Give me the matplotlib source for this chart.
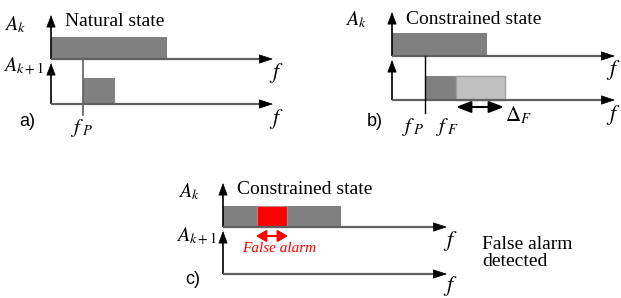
import matplotlib.pyplot as plt
from matplotlib.patches import Rectangle

plt.rcParams['mathtext.fontset'] = 'stix'
plt.rcParams['font.family'] = 'Liberation Serif'

# panel origins (axis corner) and bar extents, in figure pixels
panel_names = ['a)', 'b)', 'c)']
panel_titles = ['Natural state', 'Constrained state', 'Constrained state']
origin_x = [51, 392, 223]
top_axis_y = [59, 56, 227]
bottom_axis_y = [104, 100, 274]
axis_end_x = [273, 615, 447]
top_arrow_tip = [15, 12, 183]

# upper bar (A_k): start, end, height
upper_bar = [(51, 167, 22), (392, 487, 23), (223, 341, 21)]
# lower bar (A_k+1) dark part
lower_bar = [(83, 115, 26), (425, 456, 24), None]
# light grey tolerance band in b)
band_b = (456, 505, 24)
# false alarm box in c)
alarm_c = (257, 287, 21)

DARK = '#808080'
LIGHT = '#c0c0c0'
AXIS = '#606060'

fig = plt.figure(figsize=(6.21, 2.98), dpi=100)
ax = fig.add_axes([0, 0, 1, 1])
ax.set_xlim(0, 621)
ax.set_ylim(298, 0)
ax.axis('off')


def harrow(x0, x1, y):
    ax.plot([x0, x1 - 12], [y, y], color=AXIS, lw=1.6, solid_capstyle='butt')
    ax.annotate('', xy=(x1, y), xytext=(x1 - 13, y),
                arrowprops=dict(arrowstyle='-|>,head_length=0.9,head_width=0.3',
                                color='black', lw=0.5, shrinkA=0, shrinkB=0))


def varrow(x, y0, y1):
    ax.plot([x, x], [y0, y1 + 8], color='black', lw=1.2, solid_capstyle='butt')
    ax.annotate('', xy=(x, y1), xytext=(x, y1 + 10),
                arrowprops=dict(arrowstyle='-|>,head_length=0.8,head_width=0.3',
                                color='black', lw=0.5, shrinkA=0, shrinkB=0))


def darrow(x0, x1, y, color, hl):
    ax.annotate('', xy=(x1, y), xytext=(x0, y),
                arrowprops=dict(arrowstyle='<|-|>,head_length=%g,head_width=0.35' % hl,
                                color=color, lw=1.5, shrinkA=0, shrinkB=0))


for i in range(3):
    ox, ty, by, ex = origin_x[i], top_axis_y[i], bottom_axis_y[i], axis_end_x[i]
    # bars
    s, e, h = upper_bar[i]
    ax.add_patch(Rectangle((s, ty - h), e - s, h, facecolor=DARK, edgecolor='none'))
    if lower_bar[i] is not None:
        s, e, h = lower_bar[i]
        ax.add_patch(Rectangle((s, by - h), e - s, h, facecolor=DARK, edgecolor='none'))
    # axes
    varrow(ox, ty, top_arrow_tip[i])
    varrow(ox, by, ty + 4)
    harrow(ox, ex, ty)
    harrow(ox, ex, by)
    fx = min(ex + 3, 613)
    ax.text(fx, ty + 14, '$f$', fontsize=16, ha='center', va='center')
    ax.text(fx, min(by + 15, 286), '$f$', fontsize=16, ha='center', va='center')
    ax.text(ox + 14, top_arrow_tip[i] + 7, panel_titles[i], fontsize=14,
            ha='left', va='center')

# axis labels
ax.text(4, 25, '$A_k$', fontsize=14.5, ha='left', va='center')
ax.text(3, 67, '$A_{k+1}$', fontsize=14.5, ha='left', va='center')
ax.text(345, 20, '$A_k$', fontsize=14.5, ha='left', va='center')
ax.text(178, 192, '$A_k$', fontsize=14.5, ha='left', va='center')
ax.text(176, 237, '$A_{k+1}$', fontsize=14.5, ha='left', va='center')

# panel letters
ax.text(19, 122, 'a)', fontsize=13, family='Liberation Sans', ha='left', va='center')
ax.text(367, 122, 'b)', fontsize=13, family='Liberation Sans', ha='left', va='center')
ax.text(185, 280, 'c)', fontsize=13, family='Liberation Sans', ha='left', va='center')

# a) f_P marker
ax.plot([83, 83], [59, 115], color=AXIS, lw=1.2)
ax.text(82, 128, '$f_{\\ P}$', fontsize=15, ha='center', va='center')

# b) tolerance band and markers
s, e, h = band_b
ax.add_patch(Rectangle((s, bottom_axis_y[1] - h), e - s, h, facecolor=LIGHT,
                       edgecolor='#a0a0a0', lw=1))
ax.plot([425, 425], [56, 113], color='black', lw=1.0)
darrow(456, 504, 107, 'black', 0.9)
ax.text(413, 127, '$f_{\\ P}$', fontsize=15, ha='center', va='center')
ax.text(447, 127, '$f_{\\ F}$', fontsize=15, ha='center', va='center')
ax.text(505, 115, '$\\Delta_F$', fontsize=15, ha='left', va='center')

# c) false alarm
s, e, h = alarm_c
ax.add_patch(Rectangle((s, top_axis_y[2] - h), e - s, h, facecolor='red',
                       edgecolor='#c08080', lw=0.8))
darrow(256, 288, 236, 'red', 0.6)
ax.text(279, 249, 'False alarm', fontsize=11, style='italic', color='red',
        ha='center', va='center')
ax.text(482, 253, 'False alarm\ndetected', fontsize=14, ha='left', va='center',
        linespacing=1.05)

fig.savefig('out.png', dpi=100)
